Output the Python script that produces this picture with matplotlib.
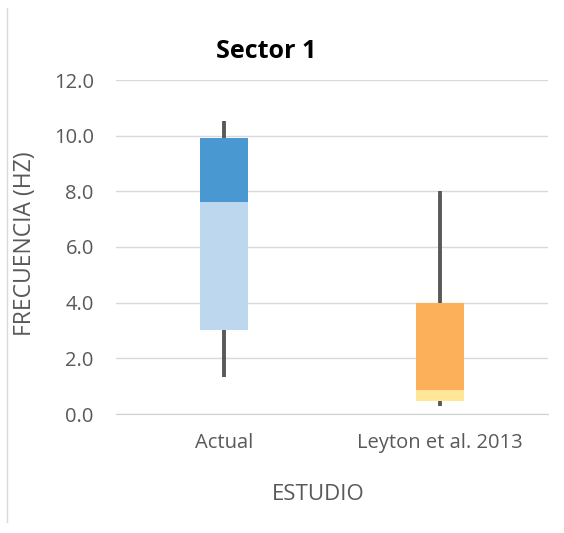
import numpy as np
import matplotlib
matplotlib.use('Agg')
import matplotlib.pyplot as plt
from matplotlib.lines import Line2D

plt.rcParams['font.family'] = ['Open Sans', 'DejaVu Sans']

# box plot values
estudios = ['Actual', 'Leyton et al. 2013']
minimo = [1.33, 0.30]
q1 = [3.02, 0.47]
mediana = [7.62, 0.86]
q3 = [9.92, 4.0]
maximo = [10.52, 8.0]

color_bajo = ['#BDD7EE', '#FFE699']
color_alto = ['#4A98D2', '#FCB05A']

W, H = 564, 533
fig = plt.figure(figsize=(W / 100, H / 100), dpi=100)
ax = fig.add_axes([116 / W, 1 - 414 / H, 432 / W, 334 / H])

x = np.arange(len(estudios))
bajo = np.array(mediana) - np.array(q1)
alto = np.array(q3) - np.array(mediana)
ax.bar(x, bajo, width=0.22, bottom=q1, color=color_bajo, zorder=3)
ax.bar(x, alto, width=0.22, bottom=mediana, color=color_alto, zorder=3)
ax.vlines(x, minimo, q1, color='#595959', lw=2.8, zorder=2)
ax.vlines(x, q3, maximo, color='#595959', lw=2.8, zorder=2)

ax.set_ylim(0, 12)
ax.set_xlim(-0.5, 1.5)
ax.set_yticks(np.arange(0, 12.1, 2))
ax.set_yticklabels(['%.1f' % v for v in np.arange(0, 12.1, 2)])
ax.set_xticks(x)
ax.set_xticklabels(estudios)
ax.grid(axis='y', color='#D9D9D9', lw=1, zorder=0)
ax.set_axisbelow(True)
for s in ['top', 'right', 'left']:
    ax.spines[s].set_visible(False)
ax.spines['bottom'].set_color('#D0D0D0')
ax.tick_params(axis='both', length=0, labelsize=14.5, labelcolor='#595959')
ax.tick_params(axis='x', pad=14)
ax.tick_params(axis='y', pad=16)

fig.text(266 / W, 1 - 52 / H, 'Sector 1', fontsize=18, fontweight='bold',
         ha='center', va='center')
fig.text(25 / W, 1 - 244 / H, 'FRECUENCIA (HZ)', fontsize=16.5, color='#595959',
         rotation=90, ha='center', va='center')
fig.text(318 / W, 1 - 495 / H, 'ESTUDIO', fontsize=16, color='#595959',
         ha='center', va='center')

fig.add_artist(Line2D([7 / W, 7 / W], [1 - 8 / H, 1 - 522 / H],
                      color='#D9D9D9', lw=1))

fig.savefig('out.png', dpi=100)
